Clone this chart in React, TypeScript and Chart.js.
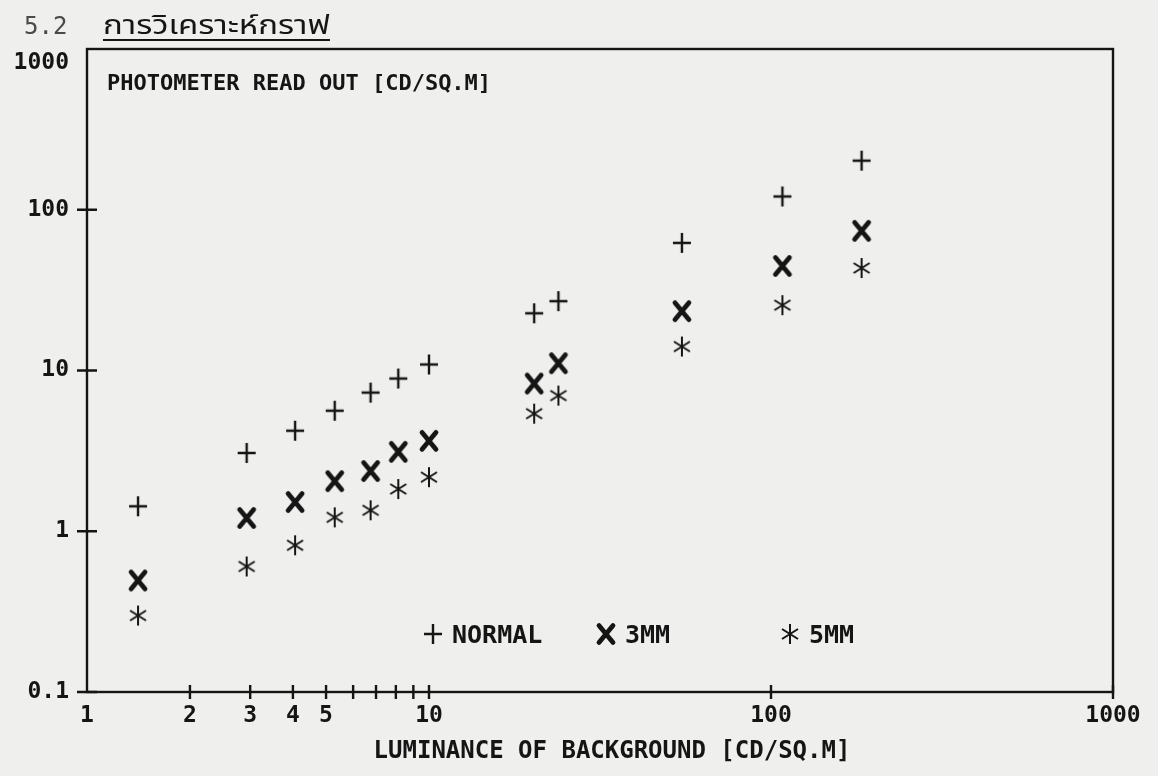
import React, { useEffect, useRef } from "react";
import { Chart, registerables } from "chart.js";

Chart.register(...registerables);

// ---- data ----
const LUMINANCE = [1.41, 2.93, 4.06, 5.3, 6.75, 8.13, 10, 20.3, 23.9, 54.9, 108, 184];
const NORMAL = [1.43, 3.07, 4.22, 5.62, 7.29, 8.91, 10.9, 22.7, 27.0, 62.2, 121, 202];
const MM3 = [0.494, 1.21, 1.52, 2.05, 2.37, 3.12, 3.65, 8.3, 11.1, 23.4, 44.7, 73.9];
const MM5 = [0.299, 0.604, 0.818, 1.22, 1.35, 1.83, 2.17, 5.39, 6.98, 14.1, 25.5, 43.4];

const X_TICK_LABELS = [1, 2, 3, 4, 5, 10, 100, 1000];
const X_TICK_MARKS = [2, 3, 4, 5, 6, 7, 8, 9, 10, 100, 1000];
const Y_TICK_LABELS = [0.1, 1, 10, 100, 1000];
const Y_TICK_MARKS = [0.1, 1, 10, 100];

const SERIES_LABELS = ["NORMAL", "3MM", "5MM"];
const HEADING_NUM = "5.2";
const HEADING_TEXT = "การวิเคราะห์กราฟ";
const Y_TITLE = "PHOTOMETER READ OUT [CD/SQ.M]";
const X_TITLE = "LUMINANCE OF BACKGROUND [CD/SQ.M]";

const INK = "#151515";
const PAPER = "#efefed";
const MONO = "'DejaVu Sans Mono', 'Liberation Mono', monospace";

function makeMarker(kind: "plus" | "x" | "ast"): HTMLCanvasElement {
  const c = document.createElement("canvas");
  const w = 24;
  const h = 24;
  c.width = w;
  c.height = h;
  const g = c.getContext("2d")!;
  g.strokeStyle = INK;
  g.beginPath();
  const cx = w / 2;
  const cy = h / 2;
  if (kind === "plus") {
    g.lineWidth = 2.4;
    g.moveTo(cx - 9, cy);
    g.lineTo(cx + 9, cy);
    g.moveTo(cx, cy - 10);
    g.lineTo(cx, cy + 10);
  } else if (kind === "x") {
    g.lineWidth = 4.8;
    g.lineCap = "round";
    g.moveTo(cx - 7, cy - 8.5);
    g.lineTo(cx + 7, cy + 8.5);
    g.moveTo(cx + 7, cy - 8.5);
    g.lineTo(cx - 7, cy + 8.5);
  } else {
    g.lineWidth = 2.0;
    g.moveTo(cx, cy - 10);
    g.lineTo(cx, cy + 10);
    g.moveTo(cx - 8, cy - 5);
    g.lineTo(cx + 8, cy + 5);
    g.moveTo(cx + 8, cy - 5);
    g.lineTo(cx - 8, cy + 5);
  }
  g.stroke();
  return c;
}

export default function App() {
  const ref = useRef<HTMLCanvasElement>(null);

  useEffect(() => {
    const canvas = ref.current!;
    const markers = [makeMarker("plus"), makeMarker("x"), makeMarker("ast")];
    const series = [NORMAL, MM3, MM5];

    const framePlugin = {
      id: "framePlugin",
      beforeDraw(chart: any) {
        const ctx = chart.ctx;
        ctx.save();
        ctx.fillStyle = PAPER;
        ctx.fillRect(0, 0, chart.width, chart.height);
        ctx.restore();
      },
      afterDraw(chart: any) {
        const ctx = chart.ctx;
        const a = chart.chartArea;
        const xs = chart.scales.x;
        const ys = chart.scales.y;
        ctx.save();
        ctx.strokeStyle = INK;
        ctx.lineWidth = 2.4;
        ctx.strokeRect(a.left, a.top, a.right - a.left, a.bottom - a.top);
        ctx.beginPath();
        for (const v of Y_TICK_MARKS) {
          const y = ys.getPixelForValue(v);
          ctx.moveTo(a.left - 10, y);
          ctx.lineTo(a.left + 10, y);
        }
        for (const v of X_TICK_MARKS) {
          const x = xs.getPixelForValue(v);
          ctx.moveTo(x, a.bottom - 7);
          ctx.lineTo(x, a.bottom + 7);
        }
        ctx.stroke();

        // heading
        ctx.fillStyle = "#4a4a4a";
        ctx.textBaseline = "alphabetic";
        ctx.font = "24px " + MONO;
        ctx.fillText(HEADING_NUM, 24, 34);
        ctx.fillStyle = INK;
        ctx.font = "27px 'Noto Sans Thai', 'Noto Sans', 'DejaVu Sans', sans-serif";
        const tw = ctx.measureText(HEADING_TEXT).width;
        const targetW = 227;
        ctx.save();
        ctx.translate(103, 34);
        ctx.scale(targetW / tw, 1);
        ctx.fillText(HEADING_TEXT, 0, 0);
        ctx.restore();
        ctx.lineWidth = 1.8;
        ctx.beginPath();
        ctx.moveTo(103, 40);
        ctx.lineTo(103 + targetW, 40);
        ctx.stroke();

        // y title inside plot
        ctx.font = "bold 22px " + MONO;
        ctx.fillText(Y_TITLE, 107, 90);

        // x title
        ctx.font = "bold 24px " + MONO;
        ctx.textAlign = "center";
        ctx.fillText(X_TITLE, 612, 758);

        // legend
        ctx.textAlign = "left";
        ctx.font = "bold 25px " + MONO;
        const legendX = [433, 606, 790];
        const ly = 634;
        for (let i = 0; i < 3; i++) {
          const m = markers[i];
          ctx.drawImage(m, legendX[i] - m.width / 2, ly - m.height / 2);
          ctx.fillText(SERIES_LABELS[i], legendX[i] + 19, ly + 9);
        }
        ctx.restore();
      },
    };

    const tickFont = { family: MONO, size: 23, weight: "bold" as const };
    const topY = Y_TICK_LABELS[Y_TICK_LABELS.length - 1];

    const chart = new Chart(canvas, {
      type: "scatter",
      data: {
        datasets: series.map((vals, i) => ({
          label: SERIES_LABELS[i],
          data: LUMINANCE.map((x, j) => ({ x, y: vals[j] })),
          pointStyle: markers[i] as any,
          pointRadius: 12,
          showLine: false,
        })),
      },
      options: {
        responsive: false,
        animation: false,
        devicePixelRatio: 1,
        events: [],
        layout: { padding: { top: 49, right: 45, left: 0, bottom: 0 } },
        plugins: {
          legend: { display: false },
          tooltip: { enabled: false },
          title: { display: false },
        },
        scales: {
          x: {
            type: "logarithmic",
            min: 1,
            max: 1000,
            grid: { display: false, drawTicks: false },
            border: { display: false },
            ticks: {
              autoSkip: false,
              maxRotation: 0,
              padding: 10,
              color: INK,
              font: tickFont,
              callback: (v: any) => String(v),
            },
            afterBuildTicks: (axis: any) => {
              axis.ticks = X_TICK_LABELS.map((value) => ({ value }));
            },
            afterFit: (s: any) => {
              s.height = 84;
              s.paddingLeft = 0;
              s.paddingRight = 0;
            },
          },
          y: {
            type: "logarithmic",
            min: 0.1,
            max: 1000,
            grid: { display: false, drawTicks: false },
            border: { display: false },
            ticks: {
              autoSkip: false,
              padding: 18,
              color: INK,
              font: tickFont,
              callback: (v: any) => (Number(v) === topY ? ["", String(v)] : String(v)),
            },
            afterBuildTicks: (axis: any) => {
              axis.ticks = Y_TICK_LABELS.map((value) => ({ value }));
            },
            afterFit: (s: any) => {
              s.width = 87;
              s.paddingTop = 0;
              s.paddingBottom = 0;
            },
          },
        },
      },
      plugins: [framePlugin],
    });
    return () => chart.destroy();
  }, []);

  return (
    <div style={{ position: "fixed", left: 0, top: 0, width: 1158, height: 776 }}>
      <canvas ref={ref} width={1158} height={776} style={{ display: "block" }} />
    </div>
  );
}
